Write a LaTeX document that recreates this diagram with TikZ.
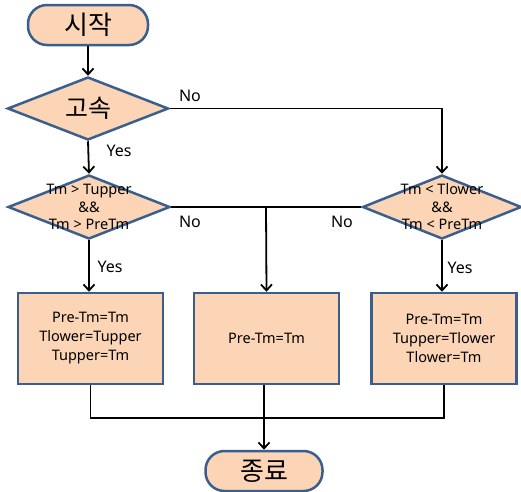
\documentclass[tikz,border=0pt]{standalone}
\usepackage{fontspec}
\setmainfont{Noto Sans}
\newfontfamily\kofont{Noto Sans CJK KR}
\usetikzlibrary{shapes.geometric,arrows.meta}
\definecolor{fillc}{HTML}{FBD5B5}
\definecolor{edgec}{HTML}{3A5F8F}
\begin{document}
\begin{tikzpicture}[x=1pt,y=-1pt,
  term/.style={draw=edgec,line width=2.5pt,fill=fillc,rectangle,rounded corners=19pt,
    minimum width=120pt,minimum height=40pt,inner sep=0pt,font=\kofont\fontsize{26}{28}\selectfont},
  dia/.style={draw=edgec,line width=2.5pt,fill=fillc,diamond,inner sep=0pt,
    minimum width=161pt,minimum height=63pt},
  diatxt/.style={font=\fontsize{14.5}{17.5}\selectfont,align=center,inner sep=0pt},
  procbox/.style={draw=edgec,line width=2.5pt,fill=fillc,rectangle,
    minimum width=145pt,minimum height=91pt,inner sep=0pt,align=center,
    font=\fontsize{14.5}{19}\selectfont},
  lbl/.style={font=\fontsize{16}{18}\selectfont,inner sep=0pt},
  arr/.style={line width=1.8pt,-{Straight Barb[length=6pt,width=11pt,line width=1.8pt]}},
  ln/.style={line width=1.8pt}]
\useasboundingbox (0,0) rectangle (521,491);
\node[term] (start) at (88,25) {시작};
\node[dia,label={[diatxt,font=\kofont\fontsize{25}{28}\selectfont]center:고속}] (d1) at (88,108.5) {};
\node[dia,minimum width=162pt,minimum height=64pt,
  label={[diatxt]center:Tm > Tupper\\\&\&\\Tm > PreTm}] (d2) at (89,207) {};
\node[dia,minimum width=159pt,minimum height=64pt,
  label={[diatxt]center:Tm < Tlower\\\&\&\\Tm < PreTm}] (d3) at (442,207) {};
\node[procbox] (b1) at (90.5,338.5) {Pre-Tm=Tm\\Tlower=Tupper\\Tupper=Tm};
\node[procbox] (b2) at (266.5,338.5) {Pre-Tm=Tm};
\node[procbox] (b3) at (444,338.5) {Pre-Tm=Tm\\Tupper=Tlower\\Tlower=Tm};
\node[term,minimum width=117pt] (end) at (264,471) {종료};
\coordinate (j) at (266,207);
\coordinate (m) at (264,418);
\draw[arr] (start) -- (d1);
\draw[arr] (d1.east) -| (d3.north);
\draw[arr] (d1.south) -- (d2.north);
\draw[ln] (d2.east) -- (d3.west);
\draw[arr] (j) -- (b2.north);
\draw[arr] (d2.south) -- (d2.south |- b1.north);
\draw[arr] (d3.south) -- (d3.south |- b3.north);
\draw[ln] (b1.south) |- (m) -| (b3.south);
\draw[ln] (b2.south -| m) -- (m);
\draw[arr] (m) -- (end);
\node[lbl] (no1) at (190,96) {No};
\node[lbl] (no2) at (190,222) {No};
\node[lbl] (no3) at (342,222) {No};
\node[lbl] (yes1) at (119,151) {Yes};
\node[lbl] (yes2) at (110,267) {Yes};
\node[lbl] (yes3) at (460,268) {Yes};
\end{tikzpicture}
\end{document}
